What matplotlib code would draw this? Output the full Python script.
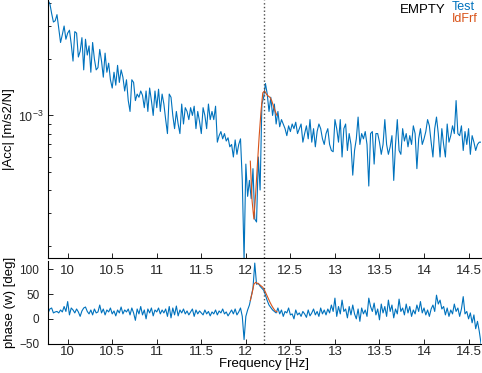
# frf plot of the EMPTY test: magnitude (log) on top, phase below
# the identified frf (IdFrf) is overlaid around the resonance at 12.2 Hz

import numpy as np
import matplotlib
matplotlib.use("Agg")
import matplotlib.pyplot as plt
from matplotlib.ticker import NullFormatter, FixedLocator

plt.rcParams['font.family'] = ['Liberation Sans', 'DejaVu Sans']

# measured frf, sampled every 0.02 Hz starting at 9.78 Hz
F_START = 9.78
F_STEP = 0.02

# |Acc| in units of 1e-3 m/s2/N
test_mag = [
	4.1, 3.95, 3.5, 3.15, 3.2, 3.45, 2.9, 2.45, 2.7, 3.0,
	2.55, 2.75, 2.85, 2.4, 1.95, 2.8, 2.75, 2.05, 2.2, 2.6,
	1.75, 2.55, 2.1, 2.35, 1.7, 2.45, 2.0, 1.75, 1.8, 2.25,
	1.95, 1.6, 2.15, 1.7, 1.9, 1.55, 1.4, 1.7, 1.45, 1.85,
	1.5, 1.75, 1.6, 1.35, 1.55, 1.2, 1.05, 1.55, 1.5, 1.2,
	1.3, 1.25, 1.35, 1.28, 1.1, 1.35, 1.05, 1.4, 1.2, 1.0,
	1.35, 1.1, 1.38, 1.05, 1.3, 1.15, 0.95, 0.8, 1.3, 1.25,
	1.0, 0.85, 1.05, 0.9, 0.8, 1.15, 0.9, 1.1, 1.05, 0.95,
	1.1, 1.0, 1.12, 0.85, 1.05, 0.93, 0.8, 1.1, 1.0, 0.85,
	1.15, 0.95, 1.05, 0.95, 1.12, 0.72, 0.78, 0.82, 0.75, 0.8,
	0.73, 0.76, 0.68, 0.7, 0.6, 0.74, 0.62, 0.7, 0.75, 0.45,
	0.17, 0.55, 0.37, 0.45, 0.36, 0.52, 0.28, 0.27, 0.6, 0.4,
	1.15, 1.25, 1.48, 1.3, 1.05, 1.25, 1.0, 1.15, 0.9, 1.05,
	0.87, 0.95, 0.9, 0.85, 0.78, 0.88, 0.82, 0.9, 0.85, 0.92,
	0.8, 0.85, 0.9, 0.72, 0.8, 0.88, 0.75, 0.95, 0.72, 0.85,
	0.68, 0.82, 0.9, 0.85, 0.75, 0.7, 0.8, 0.85, 0.7, 0.65,
	0.64, 0.95, 0.85, 0.72, 0.95, 0.6, 0.85, 0.9, 0.65, 0.8,
	0.7, 0.48, 0.65, 0.75, 0.98, 0.7, 0.8, 0.75, 0.82, 0.7,
	0.42, 0.8, 0.82, 0.55, 0.8, 0.8, 0.72, 0.62, 0.7, 0.95,
	0.7, 0.62, 0.68, 0.78, 0.45, 0.7, 0.95, 0.65, 0.62, 0.85,
	0.73, 0.8, 0.68, 0.78, 0.7, 0.88, 0.8, 0.52, 0.75, 0.85,
	0.7, 0.75, 0.82, 0.95, 0.88, 0.72, 0.6, 0.85, 0.98, 0.8,
	0.6, 0.85, 0.7, 0.6, 0.9, 0.72, 0.78, 0.88, 0.8, 1.2,
	0.8, 0.78, 0.88, 0.65, 0.82, 0.7, 0.85, 0.62, 0.78, 0.72,
	0.65, 0.7, 0.72, 0.72,
]

# phase in degrees
test_phase = [
	12, 20, 22, 12, 14, 15, 12, 18, 14, 25,
	15, 35, 8, 22, 18, 12, 20, 14, 5, 16,
	22, 24, 15, 10, 18, 8, 20, 12, 14, 28,
	12, 20, 8, 18, 14, 22, 10, 16, 6, 18,
	12, 24, 10, 18, 14, 20, 8, 22, 12, -3,
	20, 10, 25, 8, 18, 0, 20, 12, 22, 6,
	18, 14, 22, 10, 18, 12, 20, 5, 25, 2,
	22, 8, 26, 6, 18, 12, 20, 10, 16, 8,
	14, 20, 5, 18, 10, 16, 12, 8, 18, 10,
	15, 6, 14, 10, 18, 8, 16, 12, 20, 10,
	14, 6, 12, 18, 10, 20, 8, 14, 22, 5,
	-42, 5, 18, 28, 45, 62, 113, 70, 72, 66,
	62, 58, 48, 37, 28, 23, 18, 15, 12, 22,
	10, 18, 5, 15, 12, 22, 8, 10, 0, 18,
	8, 12, 5, 15, 10, 3, 18, 6, 12, 20,
	8, 15, 5, 22, 10, 18, 8, 20, 12, 28,
	15, 42, 5, 25, 10, 38, 15, 20, 2, 25,
	8, 28, 10, 0, 20, -5, 22, 10, 18, 5,
	42, 25, 15, 32, 8, 20, -2, 30, 12, 25,
	5, 38, 15, 28, 2, 20, 10, 40, 15, 22,
	8, 30, 12, 25, 5, 18, 10, 28, 15, 35,
	12, 22, 8, 18, 5, 20, 28, 15, 48, 30,
	38, 20, 25, 8, 22, 5, 18, 10, 30, 15,
	22, 5, 20, 45, 10, 15, 0, 12, -8, 8,
	-20, -5, -25, -50,
]

# identified frf, only near the resonance
idfrf_freq = [12.05, 12.07, 12.09, 12.11, 12.13, 12.15, 12.17, 12.19,
	12.21, 12.23, 12.25, 12.27, 12.29, 12.31, 12.33, 12.35]
idfrf_mag = [0.57, 0.35, 0.28, 0.38, 0.55, 0.78, 1.05, 1.32,
	1.35, 1.3, 1.27, 1.25, 1.2, 1.12, 1.05, 1.0]
idfrf_phase = [37, 52, 70, 74, 72, 70, 67, 64,
	58, 50, 42, 34, 27, 21, 16, 14]

# resonance marker
f_res = 12.2

x_ticks = [10, 10.5, 11, 11.5, 12, 12.5, 13, 13.5, 14, 14.5]
x_tick_labels = ["10", "10.5", "11", "11.5", "12", "12.5", "13", "13.5", "14", "14.5"]

BLUE = "#0072BD"
ORANGE = "#D95319"


def main():
	freq = F_START + F_STEP*np.arange(len(test_mag))
	freq_ph = F_START + F_STEP*np.arange(len(test_phase))
	mag = np.array(test_mag)*1e-3
	id_mag = np.array(idfrf_mag)*1e-3

	fig = plt.figure(figsize=(4.82, 3.73), dpi=100)
	# bottom axes first so the top axes tick labels sit over it
	ax2 = fig.add_axes([0.099, 0.079, 0.899, 0.221])
	ax1 = fig.add_axes([0.099, 0.309, 0.899, 0.691])
	for ax in (ax1, ax2):
		ax.patch.set_visible(False)
		ax.spines['top'].set_visible(False)
		ax.spines['right'].set_visible(False)
		ax.set_xlim(9.776, 14.64)
		ax.set_xticks(x_ticks)
		ax.set_xticklabels(x_tick_labels)
		ax.tick_params(direction='in', labelsize=9.5, width=0.6, length=3.5)
		ax.axvline(f_res, color='0.3', linestyle=':', linewidth=1.0, zorder=3)

	# magnitude
	ax1.plot(freq, mag, color=BLUE, linewidth=0.8)
	ax1.plot(idfrf_freq, id_mag, color=ORANGE, linewidth=0.8)
	ax1.set_yscale('log')
	ax1.set_ylim(1.74e-4, 4.13e-3)
	ax1.yaxis.set_major_locator(FixedLocator([1e-3]))
	ax1.yaxis.set_minor_locator(FixedLocator([2e-4, 3e-4, 4e-4, 5e-4, 6e-4,
		7e-4, 8e-4, 9e-4, 2e-3, 3e-3, 4e-3]))
	ax1.yaxis.set_minor_formatter(NullFormatter())
	ax1.tick_params(axis='y', which='minor', direction='in', length=2, width=0.6)
	ax1.tick_params(axis='y', which='major', pad=3, labelsize=9)
	ax1.tick_params(axis='x', pad=5)
	ax1.set_ylabel("|Acc| [m/s2/N]", fontsize=9.5, labelpad=2.5)

	# phase
	ax2.plot(freq_ph, test_phase, color=BLUE, linewidth=0.8)
	ax2.plot(idfrf_freq, idfrf_phase, color=ORANGE, linewidth=0.8)
	ax2.set_ylim(-50, 117)
	ax2.set_yticks([-50, 0, 50, 100])
	ax2.tick_params(axis='y', pad=6, labelsize=8.5)
	ax2.tick_params(axis='x', pad=2)
	ax2.set_ylabel("phase (w) [deg]", fontsize=9.5, labelpad=2)
	ax2.set_xlabel("Frequency [Hz]", fontsize=9.5, labelpad=0)
	for lab in ax1.get_xticklabels() + ax2.get_xticklabels() + ax1.get_yticklabels() + ax2.get_yticklabels():
		lab.set_color('0.15')

	# legend-like labels in the top right corner
	fig.text(0.925, 0.972, "EMPTY", fontsize=9.5, color='black', ha='right', va='center')
	fig.text(0.937, 0.981, "Test", fontsize=9, color=BLUE, ha='left', va='center')
	fig.text(0.937, 0.949, "IdFrf", fontsize=9, color=ORANGE, ha='left', va='center')

	fig.savefig("out.png", dpi=100)


if __name__ == "__main__":
	main()
